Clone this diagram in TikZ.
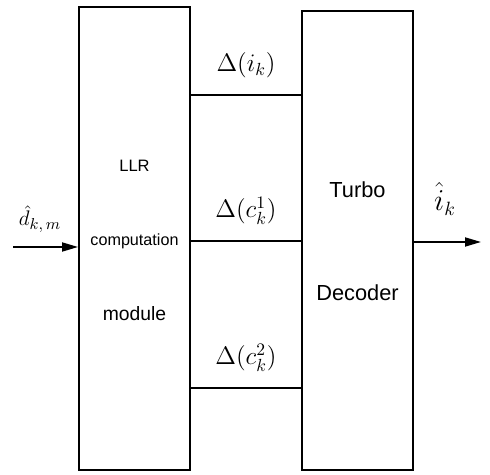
\documentclass[tikz,border=0pt]{standalone}
\usepackage{amsmath,amssymb}
\usepackage{fontspec}
\setsansfont{Liberation Sans}
\usepackage{tikz}
\usetikzlibrary{arrows.meta,positioning,calc}
\tikzset{
  blockbox/.style={draw, line width=1.1pt, minimum width=111*0.02cm,
                   inner sep=0pt},
  boxtxt/.style={font=\sffamily, inner sep=1pt},
  link/.style={line width=1pt},
  sig/.style={line width=1pt, -{Triangle[length=3.2mm, width=1.8mm]}},
  siglab/.style={font=\fontsize{14}{17}\selectfont, inner sep=1pt},
}
\begin{document}
\begin{tikzpicture}[x=0.02cm, y=-0.02cm]
  \useasboundingbox (0,0) rectangle (490,475);
  % blocks
  \node[blockbox, minimum height=463*0.02cm] (llr) at (134.5,238.5) {};
  \node[blockbox, minimum height=459*0.02cm] (dec) at (357.5,240.5) {};
  % block texts
  \node[boxtxt, font=\sffamily\fontsize{9.4}{11}\selectfont] (llrA) at (134.5,166) {LLR};
  \node[boxtxt, font=\sffamily\fontsize{9.2}{11}\selectfont] (llrB) at (134.5,241) {computation};
  \node[boxtxt, font=\sffamily\fontsize{11}{13}\selectfont] (llrC) at (134.5,314) {module};
  \node[boxtxt, font=\sffamily\fontsize{12.4}{14}\selectfont] (decA) at (357.5,190) {Turbo};
  \node[boxtxt, font=\sffamily\fontsize{12.4}{14}\selectfont] (decB) at (357.5,293) {Decoder};
  % soft values between the blocks
  \draw[link] (llr.east |- 0,95) -- node[siglab, above=8pt] (dI) {$\Delta(i_k)$} (dec.west |- 0,95);
  \draw[link] (llr.east |- 0,241) -- node[siglab, above=8pt] (dC1) {$\Delta(c_k^1)$} (dec.west |- 0,241);
  \draw[link] (llr.east |- 0,388) -- node[siglab, above=8pt] (dC2) {$\Delta(c_k^2)$} (dec.west |- 0,388);
  % input and output
  \coordinate (src) at (13,247);
  \coordinate (snk) at (481,242);
  \draw[sig] (src) -- (llr.west |- src);
  \draw[sig] (dec.east |- snk) -- (snk);
  \node[siglab, font=\fontsize{13}{15}\selectfont] (din) at (40,219) {$\hat{d}_{k,\,m}$};
  \node[siglab, font=\fontsize{16}{19}\selectfont] (iout) at (445,199) {$\hat{i}_k$};
\end{tikzpicture}
\end{document}
